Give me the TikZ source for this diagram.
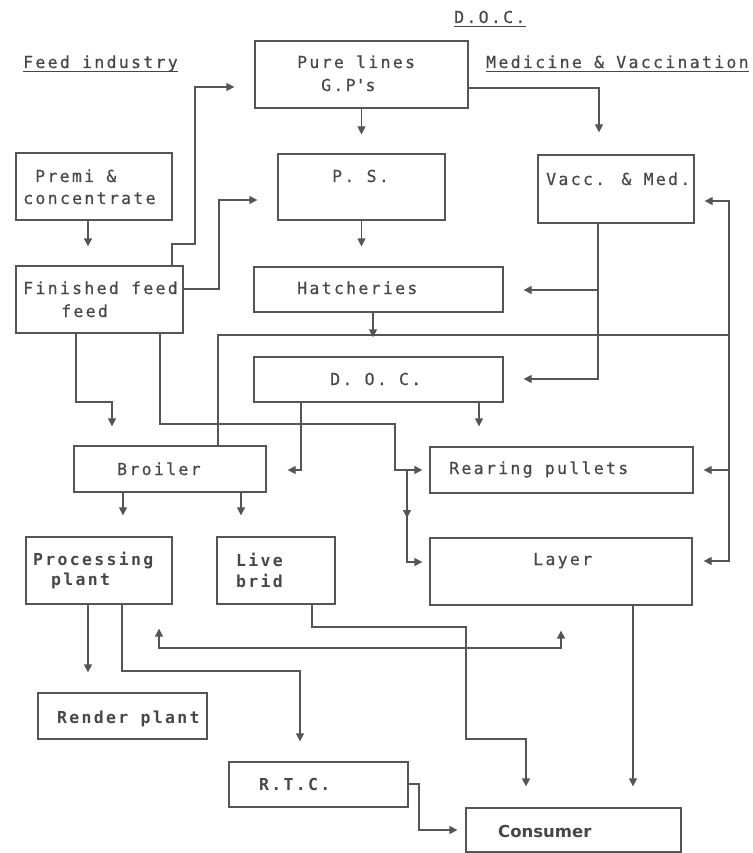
\documentclass[tikz,border=0pt]{standalone}
\usepackage{fontspec}
\usetikzlibrary{arrows.meta,decorations.markings}
\newfontfamily\dmono[LetterSpace=14,FakeBold=0.5]{DejaVu Sans Mono}
\newfontfamily\dmonob[LetterSpace=14]{DejaVu Sans Mono Bold}
\newfontfamily\dsans{DejaVu Sans}
\definecolor{ink}{HTML}{474747}
\definecolor{lineink}{HTML}{555555}
\begin{document}
\begin{tikzpicture}[x=1pt,y=-1pt,
  box/.style 2 args={draw=lineink, line width=1.3pt, inner sep=0pt, minimum width=#1pt, minimum height=#2pt},
  txt/.style={inner sep=0pt, anchor=base west, text=ink, font=\dmono\fontsize{16.5}{20}\selectfont},
  btxt/.style={txt, font=\dmonob\fontsize{16.5}{20}\selectfont},
  arr/.style={draw=lineink, line width=1.3pt, -{Triangle[width=8pt,length=8pt]}},
  ln/.style={draw=lineink, line width=1.3pt},
  ul/.style={draw=ink, line width=1pt},
  sh/.style={shorten >=#1pt},
]
\useasboundingbox (0,0) rectangle (752,853);
\fill[white] (0,0) rectangle (752,853);

% boxes
\node[box={213}{67}] (pure) at (361.5,74.5) {};
\node[box={156}{67}] (premi) at (94,186.5) {};
\node[box={167}{66}] (ps) at (361.5,187) {};
\node[box={156}{68}] (vacc) at (616,189) {};
\node[box={167}{67}] (fin) at (99.5,299.5) {};
\node[box={249}{45}] (hat) at (378.5,289.5) {};
\node[box={249}{45}] (doc) at (378.5,379.5) {};
\node[box={192}{46}] (broiler) at (170,469) {};
\node[box={263}{46}] (rear) at (561.5,470) {};
\node[box={146}{67}] (proc) at (99,570.5) {};
\node[box={118}{67}] (live) at (276,570.5) {};
\node[box={262}{67}] (layer) at (561,571.5) {};
\node[box={169}{46}] (render) at (122.5,716) {};
\node[box={179}{45}] (rtc) at (318.5,784.5) {};
\node[box={215}{44}] (cons) at (573.5,830) {};

% texts
\node[txt] (tfi) at (23,68) {Feed industry};
\node[txt] (tdoc) at (454,23) {D.O.C.};
\node[txt] (tmv) at (486,68) {Medicine \& Vaccination};
\draw[ul] ([yshift=-4pt]tfi.base west) -- ([yshift=-4pt]tfi.base east);
\draw[ul] ([yshift=-4pt]tdoc.base west) -- ([yshift=-4pt]tdoc.base east);
\draw[ul] ([yshift=-4pt]tmv.base west) -- ([yshift=-4pt]tmv.base east);

\node[txt] (tpure1) at (297,68) {Pure lines};
\node[txt] (tpure2) at (321,91) {G.P\textquotesingle s};
\node[txt] (tpremi1) at (35,182) {Premi \&};
\node[txt] (tpremi2) at (23,204) {concentrate};
\node[txt] (tps) at (332,182) {P. S.};
\node[txt] (tvacc) at (546,185) {Vacc. \& Med.};
\node[txt] (tfin1) at (23,294) {Finished feed};
\node[txt] (tfin2) at (61,317) {feed};
\node[txt] (that) at (297,294) {Hatcheries};
\node[txt] (tdoc2) at (330,385) {D. O. C.};
\node[txt] (tbroiler) at (117,475) {Broiler};
\node[txt] (trear) at (449,474) {Rearing pullets};
\node[btxt] (tproc1) at (33,565) {Processing};
\node[btxt] (tproc2) at (51,585) {plant};
\node[btxt] (tlive1) at (236,566) {Live};
\node[btxt] (tlive2) at (236,587) {brid};
\node[txt] (tlayer) at (533,565) {Layer};
\node[btxt] (trender) at (57,723) {Render plant};
\node[btxt] (trtc) at (259,790) {R.T.C.};
\node[txt, font=\dsans\bfseries\fontsize{16.5}{20}\selectfont] (tcons) at (498,837) {Consumer};

% connectors
\draw[arr,sh=19] (pure.south) -- (ps.north);
\draw[arr,sh=22] (pure.east |- 0,88) -| (vacc.north -| 599,0);
\draw[arr,sh=19] (premi.south -| 88,0) -- (fin.north -| 88,0);
\draw[arr,sh=20] (fin.north -| 172,0) |- (195,244) |- (pure.west |- 0,87);
\draw[arr,sh=20] (fin.east |- 0,289) -| (219,200) -- (ps.west |- 0,200);
\draw[arr,sh=20] (ps.south) -- (ps.south |- hat.north);
\draw[arr,sh=20] (vacc.south -| 598,0) |- (doc.east |- 0,379);
\draw[arr,sh=20] (vacc.south -| 598,0) |- (hat.east |- 0,290);
\draw[arr,sh=19] (hat.south -| 373,0) -- (doc.north -| 373,0);

\coordinate (bus) at (729,335);
\draw[arr,sh=10] (bus) |- (vacc.east |- 0,201);
\draw[arr,sh=10] (bus) |- (rear.east);
\draw[arr,sh=11] (bus) |- (layer.east |- 0,561);
\draw[ln] (bus) -| (broiler.north -| 218,0);

\draw[arr,sh=21] (doc.south -| 301,0) |- (broiler.east |- 0,470);
\draw[arr,sh=20] (doc.south -| 479,0) -- (rear.north -| 479,0);
\draw[arr,sh=19] (fin.south -| 76,0) |- (112,402) -- (broiler.north -| 112,0);
\draw[arr,sh=7] (fin.south -| 160,0) |- (395,424) |- (rear.west);
\draw[arr,sh=7, postaction={decorate},
  decoration={markings, mark=at position 48pt with {\arrow[lineink]{Triangle[width=8pt,length=8pt]}}}]
  (rear.west -| 407,0) |- (layer.west |- 0,562);

\draw[arr,sh=21] (broiler.south -| 123,0) -- (proc.north -| 123,0);
\draw[arr,sh=21] (broiler.south -| 241,0) -- (live.north -| 241,0);
\draw[arr,sh=20] (proc.south -| 88,0) -- (render.north -| 88,0);
\draw[arr,sh=20] (proc.south -| 122,0) |- (300,671) -- (rtc.north -| 300,0);
\draw[arr,sh=21] (live.south -| 312,0) |- (466,627) |- (526,739) -- (cons.north -| 526,0);
\draw[arr,sh=21] (layer.south -| 633,0) -- (cons.north -| 633,0);
\draw[arr,sh=8] (rtc.east |- 0,784) -| (419,830) -- (cons.west |- 0,830);
\draw[ln, {Triangle[width=8pt,length=8pt]}-{Triangle[width=8pt,length=8pt]}, shorten <=24pt, shorten >=25pt]
  (proc.south -| 159,0) |- (561,648) -- (layer.south -| 561,0);
\end{tikzpicture}
\end{document}
